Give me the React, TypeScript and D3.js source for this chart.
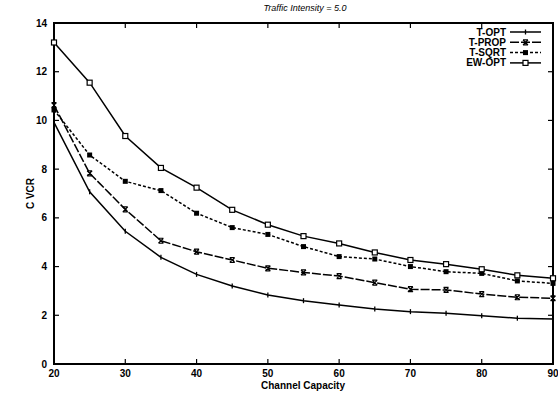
import React, { useEffect, useRef } from "react";
import * as d3 from "d3";

// Channel capacity values (x axis)
const capacity = [20, 25, 30, 35, 40, 45, 50, 55, 60, 65, 70, 75, 80, 85, 90];

// C VCR for each scheme
const tOpt = [9.92, 7.07, 5.45, 4.38, 3.68, 3.2, 2.83, 2.6, 2.42, 2.26, 2.15, 2.08, 1.98, 1.88, 1.85];
const tProp = [10.63, 7.83, 6.35, 5.06, 4.61, 4.27, 3.93, 3.76, 3.61, 3.34, 3.07, 3.04, 2.87, 2.74, 2.7];
const tSqrt = [10.43, 8.58, 7.5, 7.12, 6.19, 5.6, 5.32, 4.82, 4.41, 4.31, 4.0, 3.79, 3.72, 3.41, 3.31];
const ewOpt = [13.2, 11.55, 9.36, 8.05, 7.24, 6.33, 5.72, 5.25, 4.95, 4.58, 4.27, 4.1, 3.89, 3.64, 3.52];

const seriesNames = ["T-OPT", "T-PROP", "T-SQRT", "EW-OPT"];
const xTicks = [20, 30, 40, 50, 60, 70, 80, 90];
const yTicks = [0, 2, 4, 6, 8, 10, 12, 14];

const FONT = "'Liberation Sans Narrow', 'Liberation Sans', Arial, sans-serif";

const App = () => {
  const ref = useRef<SVGSVGElement | null>(null);

  useEffect(() => {
    document.body.style.margin = "0";
    const svg = d3.select(ref.current);
    svg.selectAll("*").remove();

    const left = 54, right = 553, top = 23, bottom = 364;
    const x = d3.scaleLinear().domain([20, 90]).range([left, right]);
    const y = d3.scaleLinear().domain([0, 14]).range([bottom, top]);

    const series = [
      { name: seriesNames[0], values: tOpt, dash: null, marker: "plus" },
      { name: seriesNames[1], values: tProp, dash: "9,2", marker: "cross" },
      { name: seriesNames[2], values: tSqrt, dash: "3,2", marker: "filled" },
      { name: seriesNames[3], values: ewOpt, dash: null, marker: "square" },
    ];

    // Frame
    svg
      .append("rect")
      .attr("x", left)
      .attr("y", top)
      .attr("width", right - left)
      .attr("height", bottom - top)
      .attr("fill", "none")
      .attr("stroke", "#000")
      .attr("stroke-width", 2);

    // Inner ticks on all four sides
    const tickLen = 5;
    const g = svg.append("g").attr("stroke", "#000").attr("stroke-width", 1.2);
    xTicks.slice(1, -1).forEach((t) => {
      g.append("line").attr("x1", x(t)).attr("x2", x(t)).attr("y1", bottom).attr("y2", bottom - tickLen);
      g.append("line").attr("x1", x(t)).attr("x2", x(t)).attr("y1", top).attr("y2", top + tickLen);
    });
    yTicks.slice(1, -1).forEach((t) => {
      g.append("line").attr("x1", left).attr("x2", left + tickLen).attr("y1", y(t)).attr("y2", y(t));
      g.append("line").attr("x1", right).attr("x2", right - tickLen).attr("y1", y(t)).attr("y2", y(t));
    });

    // Tick labels
    const labels = svg
      .append("g")
      .attr("font-family", FONT)
      .attr("font-weight", "bold")
      .attr("font-size", 10)
      .attr("fill", "#000");
    xTicks.forEach((t) => {
      labels
        .append("text")
        .attr("x", x(t))
        .attr("y", bottom + 13)
        .attr("text-anchor", "middle")
        .text(t);
    });
    yTicks.forEach((t) => {
      labels
        .append("text")
        .attr("x", left - 7)
        .attr("y", y(t) + 3.5)
        .attr("text-anchor", "end")
        .text(t);
    });

    // Axis titles and chart title
    labels
      .append("text")
      .attr("x", 303)
      .attr("y", 389)
      .attr("text-anchor", "middle")
      .text("Channel Capacity");
    labels
      .append("text")
      .attr("transform", `translate(34,${(top + bottom) / 2}) rotate(-90)`)
      .attr("text-anchor", "middle")
      .text("C VCR");
    svg
      .append("text")
      .attr("x", 305)
      .attr("y", 11)
      .attr("text-anchor", "middle")
      .attr("font-family", FONT)
      .attr("font-style", "italic")
      .attr("font-size", 9)
      .text("Traffic Intensity = 5.0");

    const drawMarker = (sel: any, type: string, cx: number, cy: number) => {
      const s = 2.5;
      if (type === "plus") {
        sel.append("line").attr("x1", cx).attr("x2", cx).attr("y1", cy - s).attr("y2", cy + s)
          .attr("stroke", "#000").attr("stroke-width", 1.3);
      } else if (type === "cross") {
        sel.append("path")
          .attr("d", `M${cx - s},${cy - s}L${cx + s},${cy + s}M${cx - s},${cy + s}L${cx + s},${cy - s}M${cx - s},${cy - s}L${cx + s},${cy - s}M${cx - s},${cy + s}L${cx + s},${cy + s}`)
          .attr("stroke", "#000").attr("stroke-width", 1.2).attr("fill", "none");
      } else if (type === "filled") {
        sel.append("rect").attr("x", cx - s).attr("y", cy - s).attr("width", 2 * s).attr("height", 2 * s)
          .attr("fill", "#000");
      } else {
        sel.append("rect").attr("x", cx - s).attr("y", cy - s).attr("width", 2 * s).attr("height", 2 * s)
          .attr("fill", "#fff").attr("stroke", "#000").attr("stroke-width", 1.2);
      }
    };

    const line = d3
      .line<number>()
      .x((_, i) => x(capacity[i]))
      .y((d) => y(d));

    series.forEach((s) => {
      svg
        .append("path")
        .datum(s.values)
        .attr("d", line)
        .attr("fill", "none")
        .attr("stroke", "#000")
        .attr("stroke-width", 1.5)
        .attr("stroke-dasharray", s.dash);
      const mg = svg.append("g");
      s.values.forEach((v, i) => drawMarker(mg, s.marker, x(capacity[i]), y(v)));
    });

    // Legend
    const legend = svg.append("g");
    series.forEach((s, i) => {
      const ly = 32 + i * 10.3;
      legend
        .append("text")
        .attr("x", 506)
        .attr("y", ly + 3.5)
        .attr("text-anchor", "end")
        .attr("font-family", FONT)
        .attr("font-weight", "bold")
        .attr("font-size", 10)
        .text(s.name);
      legend
        .append("line")
        .attr("x1", 510)
        .attr("x2", 541)
        .attr("y1", ly)
        .attr("y2", ly)
        .attr("stroke", "#000")
        .attr("stroke-width", 1.5)
        .attr("stroke-dasharray", s.dash);
      drawMarker(legend, s.marker, 525.5, ly);
    });
  }, []);

  return <svg ref={ref} width={558} height={393} style={{ display: "block", background: "#fff" }} />;
};

export default App;
